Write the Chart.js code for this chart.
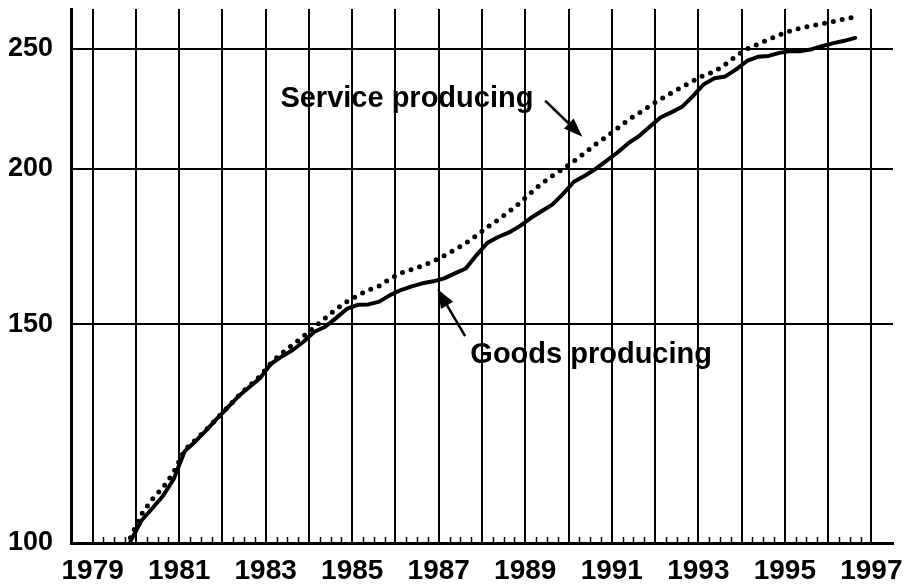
<!DOCTYPE html>
<html>
<head>
<meta charset="utf-8">
<title>Goods and service producing</title>
<script src="https://cdn.jsdelivr.net/npm/chart.js@4.4.0/dist/chart.umd.min.js"></script>
<style>
    body { margin: 0; background: #fff; }
    #wrap { width: 908px; height: 586px; }
</style>
</head>
<body>
<div id="wrap"><canvas id="chart" width="908" height="586"></canvas></div>
<script>
// Quarter positions (decimal years, middle of quarter), 1979 Q4 - 1996 Q3
const quarters = [
    1979.875,
    1980.125, 1980.375, 1980.625, 1980.875,
    1981.125, 1981.375, 1981.625, 1981.875,
    1982.125, 1982.375, 1982.625, 1982.875,
    1983.125, 1983.375, 1983.625, 1983.875,
    1984.125, 1984.375, 1984.625, 1984.875,
    1985.125, 1985.375, 1985.625, 1985.875,
    1986.125, 1986.375, 1986.625, 1986.875,
    1987.125, 1987.375, 1987.625, 1987.875,
    1988.125, 1988.375, 1988.625, 1988.875,
    1989.125, 1989.375, 1989.625, 1989.875,
    1990.125, 1990.375, 1990.625, 1990.875,
    1991.125, 1991.375, 1991.625, 1991.875,
    1992.125, 1992.375, 1992.625, 1992.875,
    1993.125, 1993.375, 1993.625, 1993.875,
    1994.125, 1994.375, 1994.625, 1994.875,
    1995.125, 1995.375, 1995.625, 1995.875,
    1996.125, 1996.375, 1996.625
]

// Index values
const goodsProducing = [
    100.3,
    104.2, 106.6, 109.1, 112.6,
    118.5, 120.7, 123.2, 125.9,
    128.6, 131.3, 133.5, 135.8,
    139.4, 141.3, 143.0, 145.2,
    147.9, 149.3, 151.7, 154.3,
    155.5, 155.6, 156.4, 158.3,
    159.8, 160.9, 161.8, 162.4,
    163.3, 164.8, 166.3, 170.5,
    174.4, 176.3, 177.8, 179.9,
    182.6, 184.9, 187.2, 191.0,
    195.3, 197.5, 200.0, 203.0,
    206.1, 209.7, 212.5, 216.3,
    220.0, 222.1, 224.4, 228.9,
    234.0, 236.6, 237.4, 240.5,
    244.3, 246.2, 246.6, 248.0,
    248.8, 248.8, 249.7, 251.2,
    252.5, 253.6, 255.0
]

const serviceProducing = [
    101.0,
    105.4, 108.4, 110.8, 114.0,
    118.8, 121.0, 123.4, 126.0,
    128.6, 131.4, 133.8, 136.3,
    139.6, 142.2, 144.4, 146.7,
    149.2, 151.7, 154.2, 156.4,
    158.2, 159.8, 161.0, 163.2,
    164.9, 166.0, 167.2, 168.6,
    170.3, 172.2, 174.3, 176.8,
    179.6, 182.0, 184.8, 187.8,
    191.3, 194.6, 197.5, 200.0,
    202.9, 206.0, 209.3, 212.3,
    215.6, 219.0, 221.8, 224.8,
    227.6, 230.2, 232.8, 235.4,
    237.9, 239.5, 242.8, 246.6,
    249.8, 252.0, 254.2, 256.4,
    258.3, 259.8, 260.8, 261.8,
    262.9, 264.0, 265.0
]

// Axis ticks
const yearTicks = [1979, 1980, 1981, 1982, 1983, 1984, 1985, 1986, 1987, 1988,
    1989, 1990, 1991, 1992, 1993, 1994, 1995, 1996, 1997]
const labelYears = [1979, 1981, 1983, 1985, 1987, 1989, 1991, 1993, 1995, 1997]
const valueTicks = [100, 150, 200, 250]

const fontFamily = '"Liberation Sans", Arial, Helvetica, sans-serif'

// Labels and arrows, placed in data coordinates
const notes = [
    { text: 'Service producing', at: [1983.34, 224.5], from: [1989.46, 227.0], to: [1990.32, 212.3] },
    { text: 'Goods producing', at: [1987.73, 139.5], from: [1987.61, 146.7], to: [1986.97, 160.1] }
]

function drawArrow(ctx, x1, y1, x2, y2) {
    const angle = Math.atan2(y2 - y1, x2 - x1)
    const headLen = 19
    const headHalf = 7
    const bx = x2 - headLen * Math.cos(angle)
    const by = y2 - headLen * Math.sin(angle)

    ctx.beginPath()
    ctx.moveTo(x1, y1)
    ctx.lineTo(bx, by)
    ctx.lineWidth = 2.5
    ctx.stroke()

    ctx.beginPath()
    ctx.moveTo(x2, y2)
    ctx.lineTo(bx + headHalf * Math.sin(angle), by - headHalf * Math.cos(angle))
    ctx.lineTo(bx - headHalf * Math.sin(angle), by + headHalf * Math.cos(angle))
    ctx.closePath()
    ctx.fill()
}

// Small quarter marks on the bottom axis, plus the notes
const decorations = {
    id: 'decorations',
    afterDatasetsDraw(chart) {
        const { ctx, scales: { x, y } } = chart
        ctx.save()
        ctx.strokeStyle = '#000'
        ctx.fillStyle = '#000'

        // Quarter marks
        ctx.lineWidth = 1.5
        const bottom = y.getPixelForValue(100)
        for (let i = 0; i < yearTicks.length - 1; i++) {
            for (let q = 1; q < 4; q++) {
                const px = Math.round(x.getPixelForValue(yearTicks[i] + q / 4)) + 0.5
                ctx.beginPath()
                ctx.moveTo(px, bottom)
                ctx.lineTo(px, bottom - 6)
                ctx.stroke()
            }
        }

        // Texts and arrows
        ctx.font = 'bold 29px ' + fontFamily
        ctx.textAlign = 'left'
        ctx.textBaseline = 'alphabetic'
        notes.forEach((note) => {
            ctx.fillText(note.text, x.getPixelForValue(note.at[0]), y.getPixelForValue(note.at[1]))
            drawArrow(ctx,
                x.getPixelForValue(note.from[0]), y.getPixelForValue(note.from[1]),
                x.getPixelForValue(note.to[0]), y.getPixelForValue(note.to[1]))
        })
        ctx.restore()
    }
}

const ctx = document.getElementById('chart')
new Chart(ctx, {
    type: 'line',
    data: {
        datasets: [
            {
                label: 'Goods producing',
                data: quarters.map((q, i) => ({ x: q, y: goodsProducing[i] })),
                borderColor: '#000',
                borderWidth: 4,
                borderJoinStyle: 'round',
                borderCapStyle: 'round',
                pointRadius: 0,
                tension: 0
            },
            {
                label: 'Service producing',
                data: quarters.map((q, i) => ({ x: q, y: serviceProducing[i] })),
                borderColor: '#000',
                borderWidth: 5,
                borderDash: [0, 9],
                borderCapStyle: 'round',
                pointRadius: 0,
                tension: 0
            }
        ]
    },
    options: {
        responsive: false,
        animation: false,
        layout: {
            padding: { top: 9, right: 15, left: 0, bottom: 0 }
        },
        scales: {
            x: {
                type: 'linear',
                min: 1978.5,
                max: 1997.5,
                afterBuildTicks: (scale) => {
                    scale.ticks = yearTicks.map((v) => ({ value: v }))
                },
                afterFit: (scale) => {
                    scale.height = 43
                    scale.paddingLeft = 0
                    scale.paddingRight = 0
                },
                grid: {
                    color: '#000',
                    lineWidth: 2,
                    drawTicks: false
                },
                border: {
                    color: '#000',
                    width: 3
                },
                ticks: {
                    autoSkip: false,
                    maxRotation: 0,
                    padding: 11,
                    color: '#000',
                    font: { family: fontFamily, size: 28, weight: 'bold' },
                    callback: (v) => (labelYears.includes(v) ? String(v) : '')
                }
            },
            y: {
                type: 'logarithmic',
                min: 100,
                max: 269,
                afterBuildTicks: (scale) => {
                    scale.ticks = valueTicks.map((v) => ({ value: v }))
                },
                afterFit: (scale) => {
                    scale.width = 71
                    scale.paddingTop = 0
                    scale.paddingBottom = 0
                },
                grid: {
                    color: '#000',
                    lineWidth: 2,
                    drawTicks: false
                },
                border: {
                    color: '#000',
                    width: 3
                },
                ticks: {
                    padding: 18,
                    color: '#000',
                    font: { family: fontFamily, size: 27, weight: 'bold' },
                    callback: (v) => String(v)
                }
            }
        },
        plugins: {
            legend: { display: false },
            tooltip: { enabled: false }
        }
    },
    plugins: [decorations]
})
</script>
</body>
</html>
